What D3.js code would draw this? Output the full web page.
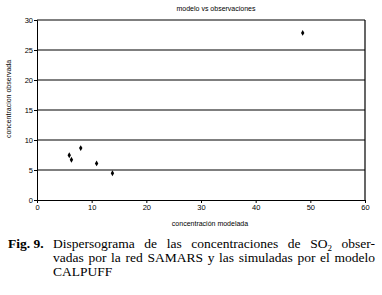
<!DOCTYPE html>
<html>
<head>
<meta charset="utf-8">
<script src="https://cdn.jsdelivr.net/npm/d3@7"></script>
<style>
  body { margin: 0; background: #fff; }
  svg { display: block; }
  .cap { font-family: "Liberation Serif", "Times New Roman", Times, "DejaVu Serif", serif; font-size: 13.5px; }
  .lab { font-family: "Liberation Sans", Arial, Helvetica, sans-serif; }
</style>
</head>
<body>
<div id="chart"></div>
<script>
// datos
var modelada = [5.9, 6.3, 8.0, 10.9, 13.8, 48.6];
var observada = [7.45, 6.7, 8.65, 6.1, 4.45, 27.85];
var xTicks = [0, 10, 20, 30, 40, 50, 60];
var yTicks = [0, 5, 10, 15, 20, 25, 30];
var titulo = "modelo vs observaciones";
var xLabel = "concentración modelada";
var yLabel = "concentracion observada";

var W = 382, H = 295;
var margin = { top: 20, right: 17, bottom: 95, left: 37 },
  width = W - margin.left - margin.right,
  height = H - margin.top - margin.bottom;

var root = d3.select("#chart")
  .append("svg")
  .attr("width", W)
  .attr("height", H);

var svg = root.append("g")
  .attr("transform", "translate(" + margin.left + "," + margin.top + ")");

var x = d3.scaleLinear().domain([0, 60]).range([0, width]);
var y = d3.scaleLinear().domain([0, 30]).range([height, 0]);

// lineas horizontales
svg.selectAll(".grid")
  .data(yTicks.slice(1))
  .enter().append("line")
  .attr("x1", 0).attr("x2", width)
  .attr("y1", function (d) { return y(d); })
  .attr("y2", function (d) { return y(d); })
  .attr("stroke", "#000")
  .attr("stroke-width", 1.2);

// borde derecho
svg.append("line")
  .attr("x1", width).attr("x2", width)
  .attr("y1", 0).attr("y2", height)
  .attr("stroke", "#000")
  .attr("stroke-width", 1.2);

// ejes
var gx = svg.append("g")
  .attr("transform", "translate(0," + height + ")")
  .call(d3.axisBottom(x).tickValues(xTicks).tickSize(3).tickPadding(2));
var gy = svg.append("g")
  .call(d3.axisLeft(y).tickValues(yTicks).tickSize(3).tickPadding(1));

[gx, gy].forEach(function (g) {
  g.attr("font-family", null).attr("font-size", null).attr("class", "lab");
  g.select(".domain").attr("stroke", "#000");
  g.selectAll(".tick line").attr("stroke", "#000");
  g.selectAll("text")
    .style("font-size", "7.5px")
    .attr("fill", "#000");
});

// puntos
svg.selectAll(".pt")
  .data(modelada)
  .enter().append("path")
  .attr("d", d3.symbol().type(d3.symbolDiamond).size(10))
  .attr("transform", function (d, i) {
    return "translate(" + x(d) + "," + y(observada[i]) + ")";
  })
  .attr("fill", "#000");

// titulo y etiquetas
root.append("text")
  .attr("class", "lab")
  .attr("x", 216).attr("y", 11)
  .attr("text-anchor", "middle")
  .style("font-size", "7px")
  .text(titulo);

root.append("text")
  .attr("class", "lab")
  .attr("x", 210).attr("y", 226)
  .attr("text-anchor", "middle")
  .style("font-size", "7px")
  .text(xLabel);

root.append("text")
  .attr("class", "lab")
  .attr("transform", "translate(11,99) rotate(-90)")
  .attr("text-anchor", "middle")
  .style("font-size", "7px")
  .text(yLabel);

// pie de figura
var cap = root.append("g");

cap.append("text")
  .attr("class", "cap")
  .attr("x", 8).attr("y", 248)
  .style("font-weight", "bold")
  .text("Fig. 9.");

var lineas = [
  ["Dispersograma", "de", "las", "concentraciones", "de", "SO_2", "obser-"],
  ["vadas", "por", "la", "red", "SAMARS", "y", "las", "simuladas", "por", "el", "modelo"],
  ["CALPUFF"]
];
var x0 = 53, x1 = 375, baseY = [248, 262, 276];

lineas.forEach(function (words, li) {
  var nodes = words.map(function (w) {
    var t = cap.append("text")
      .attr("class", "cap")
      .attr("y", baseY[li]);
    if (w.indexOf("_") > 0) {
      var p = w.split("_");
      t.append("tspan").text(p[0]);
      t.append("tspan").attr("dy", 3).style("font-size", "9px").text(p[1]);
    } else {
      t.text(w);
    }
    return t;
  });
  var widths = nodes.map(function (t) { return t.node().getComputedTextLength(); });
  var total = d3.sum(widths);
  var gap = (li < 2 && words.length > 1) ? (x1 - x0 - total) / (words.length - 1) : 4;
  var cx = x0;
  nodes.forEach(function (t, i) {
    t.attr("x", cx);
    cx += widths[i] + gap;
  });
});
</script>
</body>
</html>
